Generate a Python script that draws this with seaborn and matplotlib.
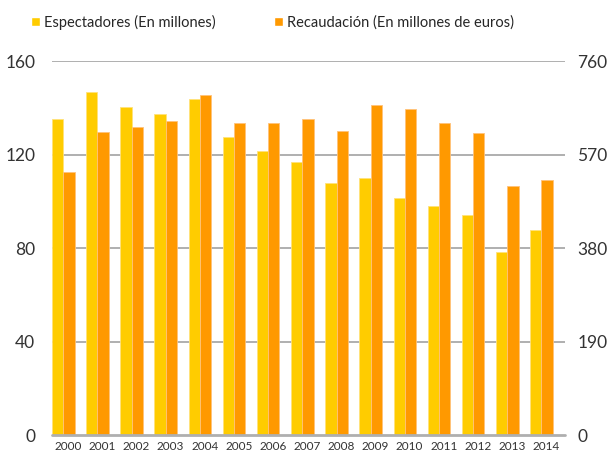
import matplotlib
matplotlib.use("Agg")
import matplotlib.pyplot as plt
import seaborn as sns
import pandas as pd
from matplotlib.patches import Patch

years = [str(y) for y in range(2000, 2015)]
espectadores = [135.2, 146.7, 140.5, 137.3, 143.7, 127.3, 121.5, 116.8,
                107.7, 109.8, 101.4, 98.0, 94.0, 78.4, 87.7]
recaudacion = [535, 616, 626, 639, 691, 634, 635, 643,
               618, 671, 662, 635, 614, 505, 518]

left_ticks = [0, 40, 80, 120, 160]
right_ticks = [0, 190, 380, 570, 760]

lab_esp = "Espectadores (En millones)"
lab_rec = "Recaudación (En millones de euros)"
colors = {lab_esp: "#FFCC00", lab_rec: "#FF9900"}

df_esp = pd.DataFrame({"year": years, "value": espectadores, "serie": lab_esp})
df_rec = pd.DataFrame({"year": years, "value": recaudacion, "serie": lab_rec})

sns.set_style("white")
plt.rcParams["font.family"] = ["Lato", "DejaVu Sans"]

fig = plt.figure(figsize=(6.11, 4.55), dpi=100)
ax = fig.add_axes([52 / 611, 1 - 435 / 455, (565 - 52) / 611, (435 - 61) / 455])
ax2 = ax.twinx()

hue_order = [lab_esp, lab_rec]
sns.barplot(data=df_esp, x="year", y="value", hue="serie", hue_order=hue_order,
            palette=colors, width=0.66, dodge=True, ax=ax, legend=False,
            saturation=1, edgecolor="#FFE27A", linewidth=0.6)
sns.barplot(data=df_rec, x="year", y="value", hue="serie", hue_order=hue_order,
            palette=colors, width=0.66, dodge=True, ax=ax2, legend=False,
            saturation=1, edgecolor="#FFC27A", linewidth=0.6)

ax.set_ylim(0, 160)
ax2.set_ylim(0, 760)
ax.set_xlim(-0.33, 14.69)
ax.set_yticks(left_ticks)
ax2.set_yticks(right_ticks)

# year labels sit a little to the right of each pair of bars
ax.set_xticks([i + 0.14 for i in range(len(years))])
ax.set_xticklabels(years)

# horizontal guides behind the bars
ax.grid(False)
ax2.grid(False)
for t in left_ticks[1:]:
    ax.axhline(t, color="#AFAFAF", linewidth=1.4, zorder=0)
for p in ax.patches:
    p.set_zorder(3)
ax.set_zorder(1)
ax2.set_zorder(2)
ax2.patch.set_visible(False)

for a in (ax, ax2):
    for s in ("top", "left", "right", "bottom"):
        a.spines[s].set_visible(False)
    a.set_xlabel("")
    a.set_ylabel("")

ax2.axhline(0, color="#AFAFAF", linewidth=2, zorder=5, clip_on=False)

ax.tick_params(axis="y", length=0, pad=12, labelsize=12.5, labelcolor="#333333")
ax2.tick_params(axis="y", length=0, pad=9, labelsize=12.5, labelcolor="#333333")
ax.tick_params(axis="x", length=0, pad=4, labelsize=8.5, labelcolor="#333333")
ax2.tick_params(axis="x", length=0)

handles = [Patch(facecolor=colors[lab_esp], label=lab_esp),
           Patch(facecolor=colors[lab_rec], label=lab_rec)]
fig.legend(handles=handles, loc="center left", bbox_to_anchor=(31 / 611, 1 - 22 / 455),
           ncol=2, frameon=False, handlelength=0.6, handleheight=0.6,
           handletextpad=0.3, columnspacing=4.0, borderpad=0, borderaxespad=0,
           prop={"family": ["Lato", "DejaVu Sans"], "size": 10.5})

fig.savefig("out.png", dpi=100)
